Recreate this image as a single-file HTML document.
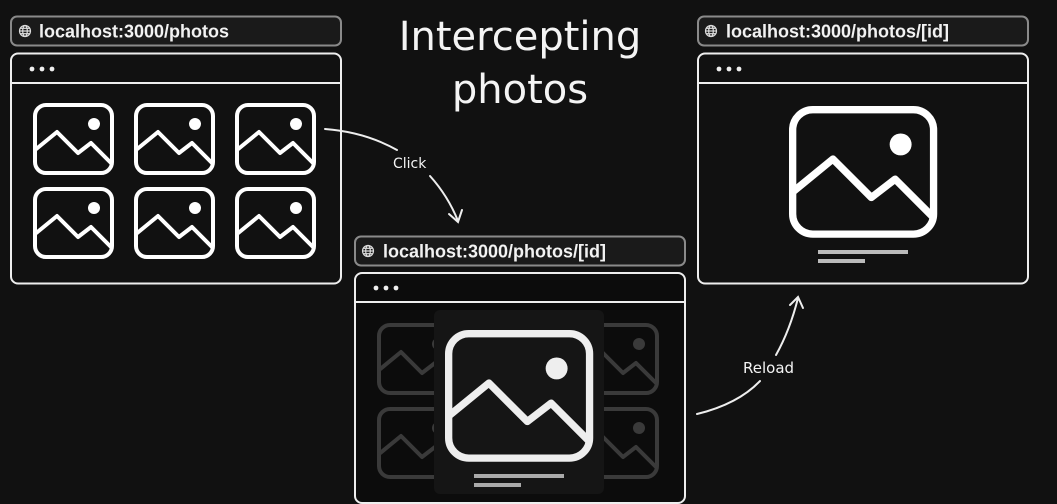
<!DOCTYPE html>
<html><head><meta charset="utf-8"><style>
html,body{margin:0;padding:0;background:#111;}
body{width:1057px;height:504px;overflow:hidden;}
svg{display:block}
.url{font-family:"Liberation Sans",sans-serif;font-weight:bold;font-size:18px;fill:#f2f2f2}
.hand{font-family:"DejaVu Sans",sans-serif;fill:#f4f4f4}
</style></head><body>
<svg width="1057" height="504" viewBox="0 0 1057 504" xmlns="http://www.w3.org/2000/svg">
<defs>
<g id="ph">
<rect x="2" y="2" width="77" height="68" rx="11" fill="none" stroke-width="4"/>
<polyline points="2,47 24,29 45,50 58,40 79,61" fill="none" stroke-width="4" stroke-linejoin="round"/>
<circle cx="61" cy="21" r="6" stroke="none"/>
</g>
<g id="globe" fill="none" stroke="#ddd" stroke-width="1.2">
<circle cx="0" cy="0" r="5.5"/><ellipse cx="0" cy="0" rx="2.3" ry="5.5"/><line x1="-5.5" y1="0" x2="5.5" y2="0"/>
<line x1="-4.7" y1="-2.7" x2="4.7" y2="-2.7"/><line x1="-4.7" y1="2.7" x2="4.7" y2="2.7"/>
</g>
</defs>
<rect width="1057" height="504" fill="#111"/>

<!-- Window 1 -->
<rect x="11" y="16.5" width="330" height="29" rx="6" fill="#1a1a1a" stroke="#8a8a8a" stroke-width="2"/>
<use href="#globe" x="25" y="31"/>
<text class="url" x="39" y="37.5">localhost:3000/photos</text>
<rect x="11" y="53.5" width="330" height="230" rx="7" fill="#111" stroke="#eee" stroke-width="2"/>
<line x1="11" y1="83" x2="341" y2="83" stroke="#eee" stroke-width="2"/>
<circle cx="32" cy="69" r="2.4" fill="#eee"/><circle cx="42" cy="69" r="2.4" fill="#eee"/><circle cx="52" cy="69" r="2.4" fill="#eee"/>
<g stroke="#fff" fill="#fff">
<use href="#ph" x="33" y="103"/><use href="#ph" x="134" y="103"/><use href="#ph" x="235" y="103"/>
<use href="#ph" x="33" y="187"/><use href="#ph" x="134" y="187"/><use href="#ph" x="235" y="187"/>
</g>

<!-- Window 3 -->
<rect x="698" y="16.5" width="330" height="29" rx="6" fill="#1a1a1a" stroke="#8a8a8a" stroke-width="2"/>
<use href="#globe" x="711" y="31"/>
<text class="url" x="726" y="37.5">localhost:3000/photos/[id]</text>
<rect x="698" y="53.5" width="330" height="230" rx="7" fill="#111" stroke="#eee" stroke-width="2"/>
<line x1="698" y1="83" x2="1028" y2="83" stroke="#eee" stroke-width="2"/>
<circle cx="719" cy="69" r="2.4" fill="#eee"/><circle cx="729" cy="69" r="2.4" fill="#eee"/><circle cx="739" cy="69" r="2.4" fill="#eee"/>
<g stroke="#fff" fill="#fff" transform="translate(789,106) scale(1.83)">
<use href="#ph"/>
</g>
<rect x="818" y="250" width="90" height="4" fill="#bbb"/>
<rect x="818" y="259" width="47" height="4" fill="#bbb"/>

<!-- Window 2 -->
<rect x="355" y="236.5" width="330" height="29" rx="6" fill="#1a1a1a" stroke="#8a8a8a" stroke-width="2"/>
<use href="#globe" x="368" y="251"/>
<text class="url" x="383" y="257.5">localhost:3000/photos/[id]</text>
<rect x="355" y="273" width="330" height="230" rx="7" fill="#0c0c0c" stroke="#eee" stroke-width="2"/>
<line x1="355" y1="302" x2="685" y2="302" stroke="#eee" stroke-width="2"/>
<circle cx="376" cy="288" r="2.4" fill="#eee"/><circle cx="386" cy="288" r="2.4" fill="#eee"/><circle cx="396" cy="288" r="2.4" fill="#eee"/>
<g stroke="#3a3a3a" fill="#3a3a3a">
<use href="#ph" x="377" y="323"/><use href="#ph" x="578" y="323"/>
<use href="#ph" x="377" y="407"/><use href="#ph" x="578" y="407"/>
</g>
<rect x="434" y="310" width="170" height="184" rx="6" fill="#151515"/>
<g stroke="#eee" fill="#eee" transform="translate(445,330) scale(1.83)">
<use href="#ph"/>
</g>
<rect x="474" y="474" width="90" height="4" fill="#aaa"/>
<rect x="474" y="483" width="47" height="4" fill="#aaa"/>

<!-- Title -->
<text class="hand" x="520" y="50" font-size="40" text-anchor="middle">Intercepting</text>
<text class="hand" x="520" y="103" font-size="40" text-anchor="middle">photos</text>

<!-- arrows -->
<g fill="none" stroke="#eee" stroke-width="2" stroke-linecap="round">
<path d="M325 129 Q365 132 397 150"/>
<path d="M430 176 Q448 196 458 221"/>
<path d="M449 214 L458 222 L462 210"/>
<path d="M697 414 Q738 404 760 381"/>
<path d="M776 355 Q790 330 798 298"/>
<path d="M790 305 L798 297 L803 308"/>
</g>
<text class="hand" x="393" y="168" font-size="14">Click</text>
<text class="hand" x="743" y="373" font-size="15">Reload</text>
</svg>
</body></html>
